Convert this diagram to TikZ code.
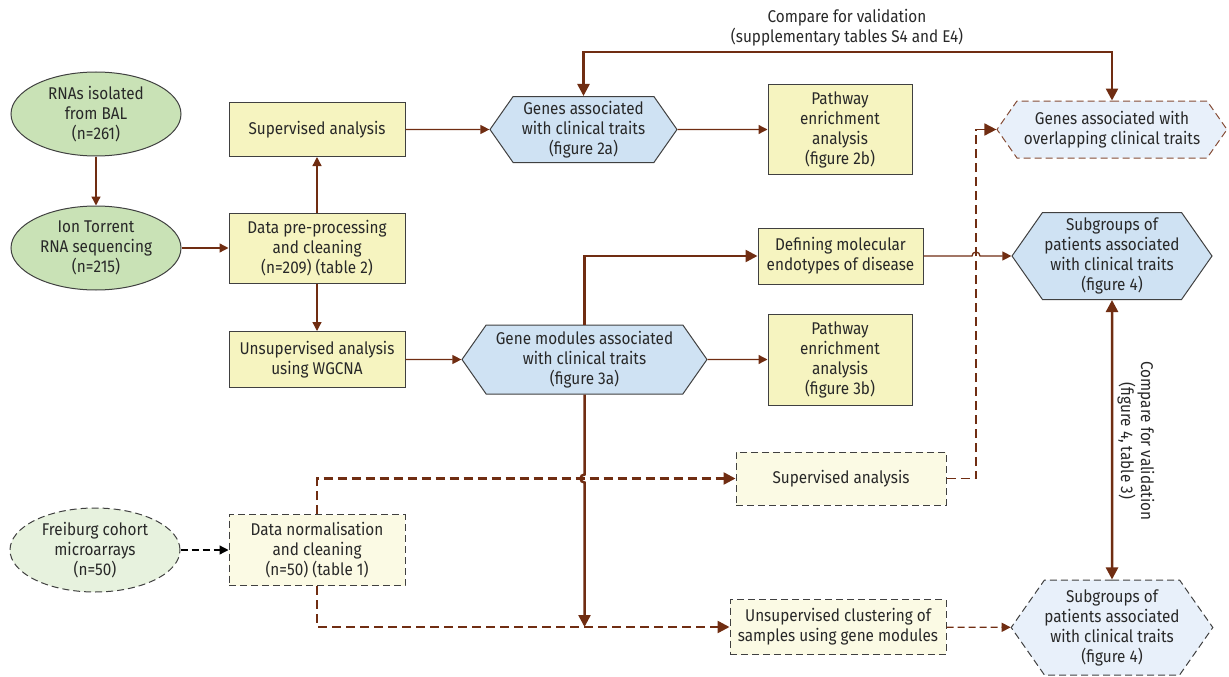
\documentclass[tikz,border=0pt]{standalone}
\usepackage{fontspec}
\setmainfont{Fira Sans}[FakeStretch=0.9]
\usepackage{tikz}
\usetikzlibrary{arrows.meta,shapes.geometric,shapes.symbols}
\definecolor{arrowColor}{RGB}{112,45,18}
\definecolor{borderColor}{RGB}{64,64,64}
\definecolor{textColor}{RGB}{40,40,40}
\definecolor{greenFill}{RGB}{201,226,182}
\definecolor{greenLight}{RGB}{231,242,222}
\definecolor{yellowFill}{RGB}{246,244,192}
\definecolor{yellowLight}{RGB}{251,250,228}
\definecolor{blueFill}{RGB}{207,226,243}
\definecolor{blueLight}{RGB}{232,240,250}
\tikzstyle{flowchart} = [x = 1pt, y = -1pt, every node/.style={font=\fontsize{17}{20}\selectfont, align=center, inner sep=0pt, text=textColor}]
\tikzstyle{dashedLine} = [dash pattern=on 7pt off 4pt]
\tikzstyle{cohortStyle} = [ellipse, draw=borderColor, fill=greenFill, line width=1pt, minimum width=170pt, minimum height=84pt]
\tikzstyle{stepBox} = [rectangle, draw=borderColor, fill=yellowFill, line width=1pt]
\tikzstyle{resultHex} = [signal, signal to=west and east, signal pointer angle=110, draw=borderColor, fill=blueFill, line width=1pt]
\tikzstyle{thinArrow} = [color=arrowColor, line width=1.3pt, -{Triangle[length=9pt, width=9pt]}]
\tikzstyle{thickArrow} = [color=arrowColor, line width=2.5pt, -{Triangle[length=12pt, width=12pt]}]
\tikzstyle{doubleArrow} = [color=arrowColor, line width=2.5pt, {Triangle[length=12pt, width=12pt]}-{Triangle[length=12pt, width=12pt]}]
\tikzstyle{dashedArrow} = [color=arrowColor, line width=2.5pt, dash pattern=on 9pt off 5pt, -{Triangle[length=12pt, width=12pt]}]
\newcommand{\stepNode}[6]{\node [stepBox, minimum width=#3pt, minimum height=#4pt, #6] (#1) at (#2) {#5};}
\newcommand{\hexNode}[6]{\node [resultHex, minimum width=#3pt, minimum height=#4pt, #6] (#1) at (#2) {#5};}

\begin{document}
\begin{tikzpicture}[flowchart]
\useasboundingbox (0,0) rectangle (1229,677);
\node [cohortStyle] (rnaNode) at (96,114) {RNAs isolated\\from BAL\\(n=261)};
\node [cohortStyle] (ionNode) at (96,248) {Ion Torrent\\RNA sequencing\\(n=215)};
\node [cohortStyle, dashedLine, fill=greenLight] (freiburgNode) at (95,550) {Freiburg cohort\\microarrays\\(n=50)};
\stepNode{supNode}{317,129.5}{176}{54}{Supervised analysis}{}
\stepNode{preNode}{317,248}{176}{70}{Data pre-processing\\and cleaning\\(n=209) (table 2)}{}
\stepNode{unsupNode}{317,359.5}{176}{56}{Unsupervised analysis\\using WGCNA}{}
\stepNode{normNode}{317,550}{176}{71}{Data normalisation\\and cleaning\\(n=50) (table 1)}{dashedLine, fill=yellowLight}
\hexNode{genesNode}{583.5,129.5}{187}{66}{Genes associated\\with clinical traits\\(figure 2a)}{}
\hexNode{modulesNode}{584.5,359.5}{245}{69}{Gene modules associated\\with clinical traits\\(figure 3a)}{}
\stepNode{pathANode}{840,129.5}{144}{90}{Pathway\\enrichment\\analysis\\(figure 2b)}{}
\stepNode{pathBNode}{840,359.5}{144}{91}{Pathway\\enrichment\\analysis\\(figure 3b)}{}
\stepNode{defNode}{840.5,256}{165}{56}{Defining molecular\\endotypes of disease}{}
\stepNode{supDashNode}{841,478.5}{210}{53}{Supervised analysis}{dashedLine, fill=yellowLight}
\stepNode{clusterNode}{838,627}{216}{55}{Unsupervised clustering of\\samples using gene modules}{dashedLine, fill=yellowLight}
\hexNode{overlapNode}{1112,129.5}{230}{57}{Genes associated with\\overlapping clinical traits}{dashedLine, draw=arrowColor!85, fill=blueLight}
\hexNode{subNode}{1112,256}{200}{87}{Subgroups of\\patients associated\\with clinical traits\\(figure 4)}{}
\hexNode{subDashNode}{1112,627.5}{200}{95}{Subgroups of\\patients associated\\with clinical traits\\(figure 4)}{dashedLine, fill=blueLight}
\node (compareTopLabel) at (847,28) {Compare for validation\\(supplementary tables S4 and E4)};
\node [rotate=-90] (compareSideLabel) at (1136,441) {Compare for validation\\(figure 4, table 3)};
\coordinate (topBar) at (847,52);
\coordinate (turnPoint) at (976,478.5);
\draw [thinArrow] (rnaNode) -- (ionNode);
\draw [thinArrow] (ionNode) -- (preNode);
\draw [thinArrow] (preNode) -- (supNode);
\draw [thinArrow] (preNode) -- (unsupNode);
\draw [thinArrow] (supNode) -- (genesNode);
\draw [thinArrow] (genesNode) -- (pathANode);
\draw [thinArrow] (unsupNode) -- (modulesNode);
\draw [thinArrow] (modulesNode) -- (pathBNode);
\draw [thickArrow] (modulesNode.north) |- (defNode.west);
\draw [dashedArrow] (normNode.north) |- (supDashNode.west);
\draw [dashedArrow] (normNode.south) |- (clusterNode.west);
\draw [thickArrow] (modulesNode.south) -- ([yshift=4pt]modulesNode.south |- supDashNode.west) arc [start angle=90, end angle=270, radius=4pt] -- (modulesNode.south |- clusterNode.west);
\draw [dashedArrow, line width=1.8pt] (supDashNode.east) -- (turnPoint) |- (overlapNode.west);
\draw [thinArrow] (defNode.east) -- ([xshift=-4pt]defNode.east -| turnPoint) arc [start angle=180, end angle=0, radius=4pt] -- (subNode.west);
\draw [thinArrow, dashedLine] (clusterNode) -- (subDashNode);
\draw [thinArrow, dashedLine, color=black] (freiburgNode) -- (normNode);
\draw [doubleArrow] (genesNode.north) |- (topBar) -| (overlapNode.north);
\draw [doubleArrow] (subNode) -- (subDashNode);
\end{tikzpicture}
\end{document}
